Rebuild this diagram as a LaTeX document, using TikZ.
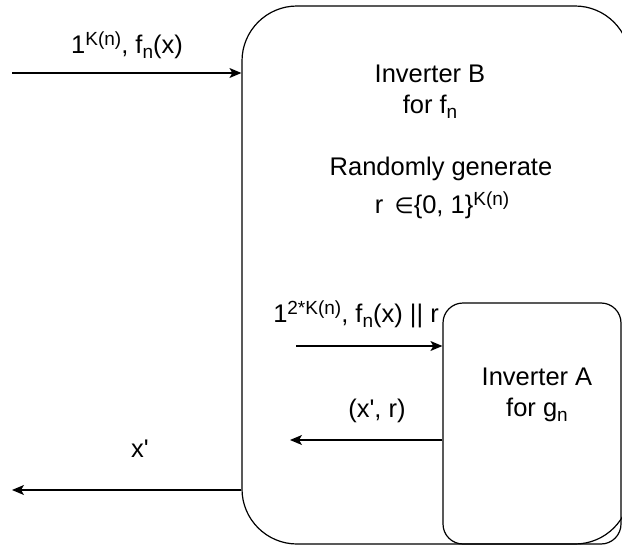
\documentclass[tikz,border=0pt]{standalone}
\usepackage{fontspec}
\setmainfont{Liberation Sans}
\newfontfamily\symfont{DejaVu Sans}
\usetikzlibrary{arrows.meta, positioning, calc}
\newcommand\hi[1]{\raisebox{8pt}{\fontsize{19}{19}\selectfont #1}}
\newcommand\lo[1]{\raisebox{-5pt}{\fontsize{19}{19}\selectfont #1}}

\begin{document}
\begin{tikzpicture}[
  x=1pt, y=-1pt,
  box/.style={draw, line width=1.2pt, rounded corners=#1, inner sep=0pt},
  lbl/.style={font=\fontsize{25.5}{31}\selectfont, inner sep=0pt, anchor=base},
  flow/.style={-{Stealth[length=12pt, width=10pt, inset=3pt]}, line width=1.2pt},
]
  \useasboundingbox (0,0) rectangle (622,546);
  \clip (0,0) rectangle (622,546);

  % the two inverters
  \node[box=55pt, minimum width=388pt, minimum height=538pt] (invB) at (436,275) {};
  \node[box=20pt, minimum width=178pt, minimum height=241pt] (invA) at (532,423.5) {};

  \node[lbl] (titleB) at (430,82) {Inverter B};
  \node[lbl] (forB) at (430,113) {for f\lo{n}};
  \node[lbl] (rand) at (441,175) {Randomly generate};
  \node[lbl] (rset) at (442,213) {r\, {\symfont\fontsize{22}{22}\selectfont∈}\{0, 1\}\hi{K(n)}};

  \node[lbl] (titleA) at (537,385) {Inverter A};
  \node[lbl] (forA) at (537,416) {for g\lo{n}};

  % messages
  \coordinate (inB) at (12,73);
  \coordinate (qA) at (296,346);
  \coordinate (ansA) at (290,440);
  \coordinate (outB) at (12,490);

  \draw[flow] (inB) -- (inB -| invB.west);
  \draw[flow] (qA) -- (qA -| invA.west);
  \draw[flow] (ansA -| invA.west) -- (ansA);
  \draw[flow] (outB -| invB.west) -- (outB);

  \node[lbl] (inLbl) at (127,53) {1\hi{K(n)}, f\lo{n}(x)};
  \node[lbl] (qLbl) at (356,322) {1\hi{2*K(n)}, f\lo{n}(x) || r};
  \node[lbl] (ansLbl) at (377,417) {(x\textquotesingle, r)};
  \node[lbl] (outLbl) at (140,457) {x\textquotesingle};
\end{tikzpicture}
\end{document}
